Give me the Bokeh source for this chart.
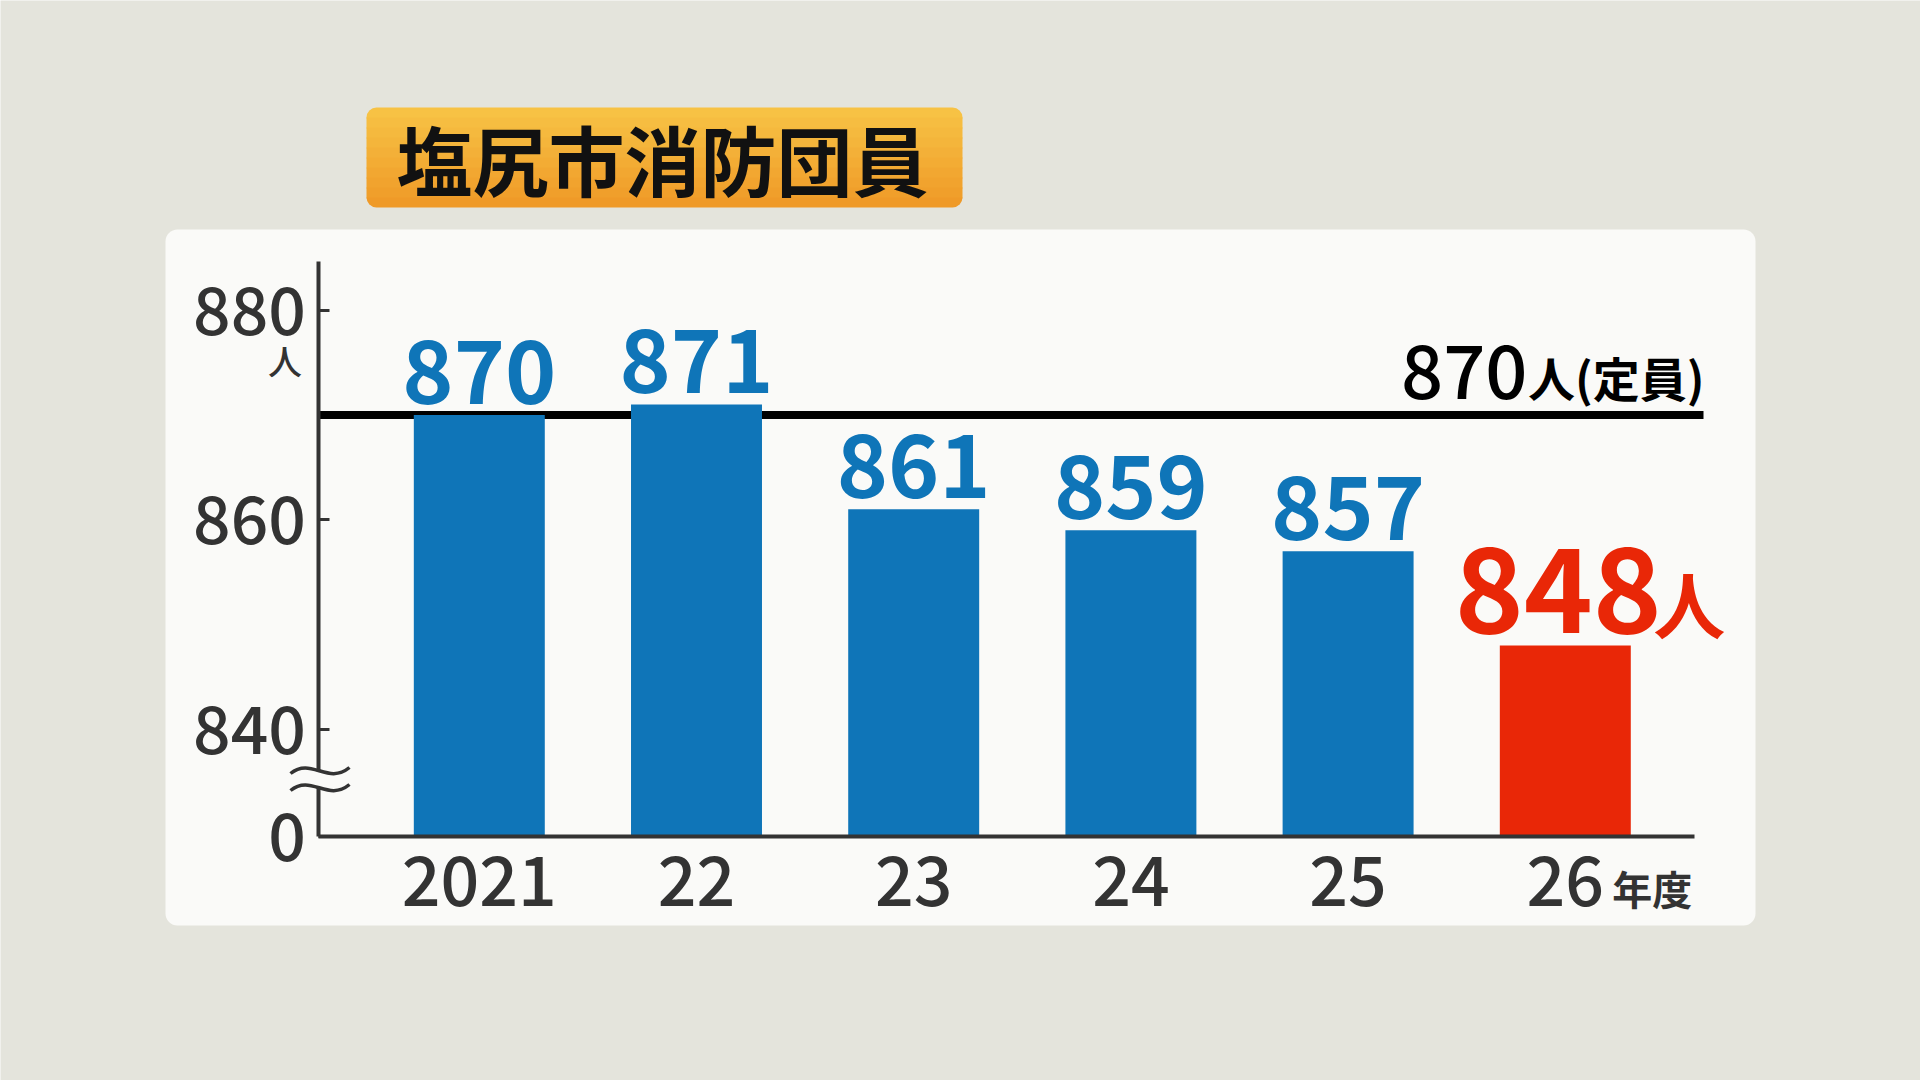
from bokeh.plotting import figure
from bokeh.models import (LinearAxis, FixedTicker, BoxAnnotation, Range1d,
                          NumeralTickFormatter)
from bokeh.core.properties import value
from bokeh.embed import file_html
from bokeh.resources import INLINE

# ---------------- data ----------------
years = ["2021", "22", "23", "24", "25", "26"]
members = [870, 871, 861, 859, 857, 848]
capacity = 870
y_ticks = [840, 860, 880]
title_text = "塩尻市消防団員"
unit_text = "人"
capacity_note = "人(定員)"
year_unit = "年度"

# ---------------- style ----------------
FONT = "Noto Sans CJK JP"
FONT_MED = "'Noto Sans CJK JP Medium', 'Noto Sans CJK JP'"
BG = "#e4e4dc"
PANEL = "#fafaf8"
BLUE = "#0f75b8"
RED = "#e92707"
DARK = "#333333"

# page geometry (page pixels of the 1920x1080 picture)
W, H, OFF = 1920, 1080, 0
X0_PX, X_STEP = 478.8, 217.2        # first bar centre, px per category
YREF_PX, Y_PER = 309.7, 10.4775     # px of the top tick, px per person
YREF = y_ticks[-1]


def gx(px):
    return (px - X0_PX) / X_STEP


def gy(py):
    return YREF - (py - YREF_PX) / Y_PER


BASE = gy(835.5)        # broken-axis baseline ("0")
AXIS_X = gx(318.4)
AXIS_TOP = gy(261)
XAXIS_END = gx(1694)
LINE_END = gx(1703)

idx = list(range(len(years)))

p = figure(width=W, height=H,
           x_range=Range1d(gx(OFF), gx(OFF + W)),
           y_range=Range1d(gy(OFF + H), gy(OFF)),
           x_axis_type=None, y_axis_type=None,
           toolbar_location=None, output_backend="svg",
           min_border=0, background_fill_color=BG, border_fill_color=BG,
           outline_line_color=None)

# white panel
p.add_layout(BoxAnnotation(left=gx(165), right=gx(1755), top=gy(229), bottom=gy(925),
                           fill_color=PANEL, fill_alpha=1, line_color=None,
                           border_radius=12, level="underlay"))

# orange title box (vertical gradient made of bands)
c_top, c_bot = (247, 196, 70), (239, 152, 38)
n = 10
t0, t1 = 107, 207
bh = (t1 - t0) / n
for i in range(n):
    f = (i + 0.5) / n
    col = "#%02x%02x%02x" % tuple(int(round(a + (b - a) * f)) for a, b in zip(c_top, c_bot))
    top = t0 + i * bh
    bot = top + bh + (1 if i < n - 1 else 0)
    if i == 0:
        rad = (10, 10, 0, 0)
    elif i == n - 1:
        rad = (0, 0, 10, 10)
    else:
        rad = 0
    p.add_layout(BoxAnnotation(left=gx(366), right=gx(962), top=gy(top), bottom=gy(bot),
                               fill_color=col, fill_alpha=1, line_color=None,
                               border_radius=rad, level="underlay"))

p.text(x=[gx(662)], y=[gy(157)], text=[title_text], text_font=value(FONT),
       text_font_size="76px", text_font_style="bold", text_color="#111111",
       text_align="center", text_baseline="middle")

# axes
yax = LinearAxis(fixed_location=AXIS_X,
                 ticker=FixedTicker(ticks=[BASE] + y_ticks),
                 formatter=NumeralTickFormatter(format="0"),
                 major_label_overrides={BASE: "0"},
                 bounds=(BASE, AXIS_TOP),
                 axis_line_color=DARK, axis_line_width=4,
                 major_tick_line_color=DARK, major_tick_line_width=3,
                 major_tick_in=11, major_tick_out=0,
                 minor_tick_line_color=None,
                 major_label_text_font=FONT_MED, major_label_text_font_size="66px",
                 major_label_text_color=DARK, major_label_standoff=13)
p.add_layout(yax, "left")

xax = LinearAxis(fixed_location=BASE,
                 ticker=FixedTicker(ticks=idx),
                 major_label_overrides={i: y for i, y in zip(idx, years)},
                 bounds=(AXIS_X, XAXIS_END),
                 axis_line_color=DARK, axis_line_width=4,
                 major_tick_line_color=None, major_tick_in=0, major_tick_out=0,
                 minor_tick_line_color=None,
                 major_label_text_font=FONT_MED, major_label_text_font_size="68px",
                 major_label_text_color=DARK, major_label_standoff=20)
p.add_layout(xax, "below")

# capacity line (under the bars)
p.segment(x0=[AXIS_X], x1=[LINE_END], y0=[capacity], y1=[capacity],
          line_color="black", line_width=8)

# bars
colors = [BLUE] * (len(members) - 1) + [RED]
p.vbar(x=idx, top=members, bottom=BASE, width=0.603, fill_color=colors, line_color=None)

# value labels (vertical centre of the digits given by y_offset)
p.text(x=idx[:-1], y=members[:-1], text=[str(v) for v in members[:-1]],
       y_offset=-43, text_font=value(FONT), text_font_size="87px",
       text_font_style="bold", text_color=BLUE, text_align="center",
       text_baseline="middle")
p.text(x=[idx[-1]], y=[members[-1]], text=[str(members[-1])],
       x_offset=-7, y_offset=-56, text_font=value(FONT), text_font_size="117px",
       text_font_style="bold", text_color=RED, text_align="center",
       text_baseline="middle")
p.text(x=[idx[-1]], y=[members[-1]], text=[unit_text],
       x_offset=88, y_offset=-44, text_font=value(FONT), text_font_size="72px",
       text_font_style="bold", text_color=RED, text_align="left",
       text_baseline="middle")

# capacity label
p.text(x=[LINE_END], y=[capacity], text=[capacity_note], x_offset=1, y_offset=-38,
       text_font=value(FONT), text_font_size="47px", text_font_style="bold",
       text_color="black", text_align="right", text_baseline="middle")
p.text(x=[LINE_END], y=[capacity], text=[str(capacity)], x_offset=-176, y_offset=-43,
       text_font=value(FONT_MED), text_font_size="74px", text_color="black",
       text_align="right", text_baseline="middle")

# unit under top tick, fiscal-year unit
p.text(x=[gx(284.5)], y=[gy(360)], text=[unit_text], text_font=value(FONT_MED),
       text_font_size="34px", text_color=DARK, text_align="center",
       text_baseline="middle")
p.text(x=[idx[-1]], y=[BASE], text=[year_unit], x_offset=47, y_offset=52,
       text_font=value(FONT), text_font_size="40px", text_font_style="bold",
       text_color=DARK, text_align="left", text_baseline="middle")

# axis break mark
cover = p.quad(left=[gx(312)], right=[gx(325)], top=[gy(771)], bottom=[gy(787)],
               fill_color=PANEL, line_color=None)
cover.level = "overlay"
for dy in (0, 17):
    br = p.bezier(x0=[gx(290)], y0=[gy(773 + dy)], x1=[gx(349)], y1=[gy(767 + dy)],
                  cx0=[gx(311)], cy0=[gy(756 + dy)], cx1=[gx(327)], cy1=[gy(785 + dy)],
                  line_color=DARK, line_width=3.5)
    br.level = "overlay"

open("out.html", "w").write(file_html(p, INLINE))
